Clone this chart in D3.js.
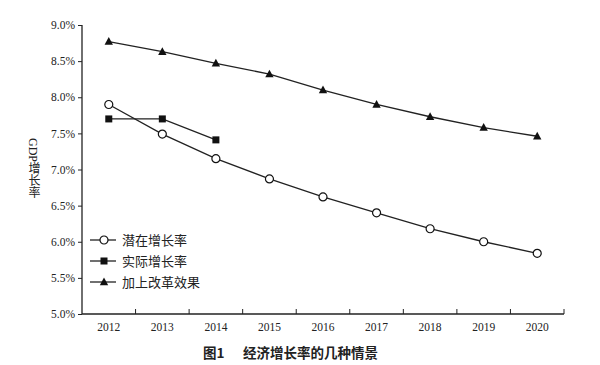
<!DOCTYPE html>
<html><head><meta charset="utf-8">
<script src="https://cdn.jsdelivr.net/npm/d3@7"></script>
<style>body{margin:0;background:#fff}svg{display:block}</style>
</head><body>
<svg id="c" width="600" height="365"></svg>
<script>
const years = ["2012","2013","2014","2015","2016","2017","2018","2019","2020"];
const potential = [7.90, 7.49, 7.15, 6.87, 6.62, 6.40, 6.18, 6.00, 5.84];
const actual = [7.70, 7.70, 7.41];
const reform = [8.77, 8.63, 8.47, 8.32, 8.10, 7.90, 7.73, 7.58, 7.46];
const yTicks = [5.0, 5.5, 6.0, 6.5, 7.0, 7.5, 8.0, 8.5, 9.0];
const seriesNames = ["潜在增长率", "实际增长率", "加上改革效果"];
const yTitle = "GDP增长率";
const captionNum = "图1";
const captionText = "经济增长率的几种情景";

const svg = d3.select("#c");
const serif = "'Liberation Serif','Times New Roman',serif";
const cjk = "'Noto Sans CJK SC',sans-serif";
const L = 82, R = 564, T = 25, B = 314;
const x = d3.scaleBand().domain(years).range([L, R]);
const y = d3.scaleLinear().domain([5, 9]).range([B, T]);
const cx = d => x(d) + x.bandwidth() / 2;

// axes
const ya = svg.append("g").attr("transform", `translate(${L},0)`)
  .call(d3.axisLeft(y).tickValues(yTicks).tickFormat(d => d.toFixed(1) + "%").tickSize(4).tickSizeOuter(0));
ya.attr("font-family", serif);
ya.select(".domain").attr("stroke", "#222").attr("stroke-width", 1.3).attr("d", `M0,${T}V${B}`);
ya.selectAll(".tick line").attr("stroke", "#222");
ya.selectAll("text").attr("font-family", serif).attr("font-size", 11.5).attr("fill", "#222").attr("x", -7);

const xa = svg.append("g").attr("transform", `translate(0,${B})`);
xa.append("line").attr("x1", L).attr("x2", R).attr("y1", 0).attr("y2", 0).attr("stroke", "#222").attr("stroke-width", 1.3);
const bounds = years.map(d => x(d) + x.bandwidth());
xa.selectAll(".tk").data(bounds).join("line").attr("x1", d => d).attr("x2", d => d)
  .attr("y1", 0).attr("y2", -5).attr("stroke", "#222");
xa.selectAll(".lb").data(years).join("text").attr("x", d => cx(d)).attr("y", 17)
  .attr("text-anchor", "middle").attr("font-family", serif).attr("font-size", 11.5).attr("fill", "#222").text(d => d);

// y title (vertical writing: Latin rotated, CJK upright)
svg.append("text").attr("x", 33).attr("y", 138)
  .style("writing-mode", "vertical-rl")
  .attr("font-family", serif + "," + cjk).attr("font-size", 12).attr("fill", "#222").text(yTitle);

const line = d3.line().x((d, i) => cx(years[i])).y(d => y(d));
const sym = {
  circle: g => g.append("circle").attr("r", 4).attr("fill", "#fff").attr("stroke", "#111").attr("stroke-width", 1.2),
  square: g => g.append("rect").attr("x", -3.5).attr("y", -3.5).attr("width", 7).attr("height", 7).attr("fill", "#111"),
  triangle: g => g.append("path").attr("d", "M0,-4.5L4.2,3.2L-4.2,3.2Z").attr("fill", "#111")
};
const series = [
  {name: seriesNames[0], data: potential, m: "circle"},
  {name: seriesNames[1], data: actual, m: "square"},
  {name: seriesNames[2], data: reform, m: "triangle"}
];
series.forEach(s => {
  svg.append("path").datum(s.data).attr("d", line).attr("fill", "none").attr("stroke", "#222").attr("stroke-width", 1.3);
});
series.forEach(s => {
  s.data.forEach((v, i) => {
    const g = svg.append("g").attr("transform", `translate(${cx(years[i])},${y(v)})`);
    sym[s.m](g);
  });
});

// legend
const legY = [240, 261, 282];
series.forEach((s, i) => {
  const g = svg.append("g").attr("transform", `translate(0,${legY[i]})`);
  g.append("line").attr("x1", 90).attr("x2", 116).attr("stroke", "#222").attr("stroke-width", 1.3);
  const m = g.append("g").attr("transform", "translate(104,0)");
  sym[s.m](m);
  g.append("text").attr("x", 122).attr("y", 4.5).attr("font-family", cjk).attr("font-size", 13)
    .attr("fill", "#222").text(s.name);
});

// caption
svg.append("text").attr("x", 203).attr("y", 358).attr("font-family", cjk).attr("font-size", 13.5)
  .attr("font-weight", "bold").attr("fill", "#222").text(captionNum);
svg.append("text").attr("x", 243).attr("y", 358).attr("font-family", cjk).attr("font-size", 13.5)
  .attr("font-weight", "bold").attr("fill", "#222").text(captionText);
</script>
</body></html>
